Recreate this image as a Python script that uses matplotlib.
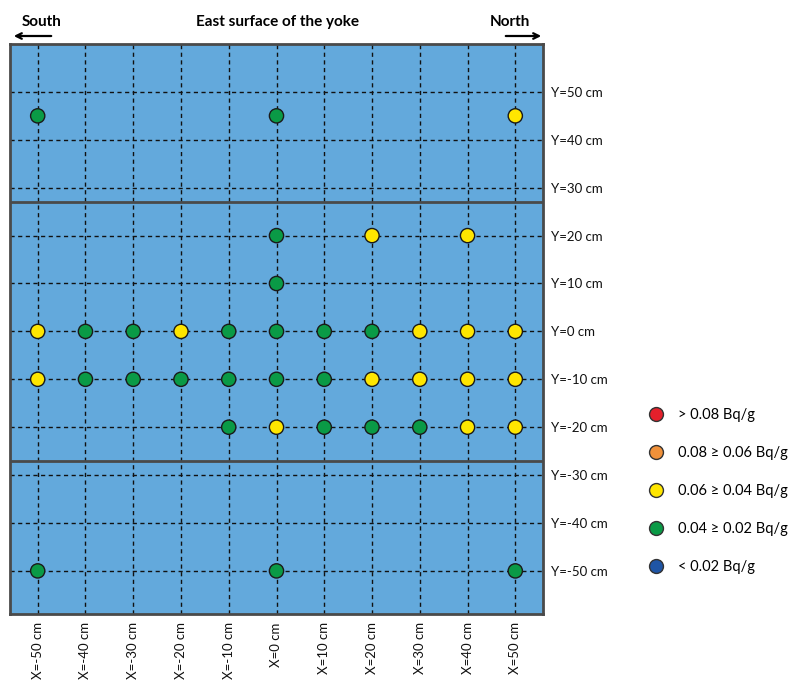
import matplotlib.pyplot as plt
from matplotlib.lines import Line2D

plt.rcParams['font.family'] = ['Lato', 'DejaVu Sans']

# Messpunkte (X, Y in cm) und Klasse der Aktivität
x_ticks = [-50, -40, -30, -20, -10, 0, 10, 20, 30, 40, 50]
y_ticks = [50, 40, 30, 20, 10, 0, -10, -20, -30, -40, -50]
section_bounds = [27, -27]

point_x = [-50, 0, 50,
           0, 20, 40,
           0,
           -50, -40, -30, -20, -10, 0, 10, 20, 30, 40, 50,
           -50, -40, -30, -20, -10, 0, 10, 20, 30, 40, 50,
           -10, 0, 10, 20, 30, 40, 50,
           -50, 0, 50]
point_y = [45, 45, 45,
           20, 20, 20,
           10,
           0, 0, 0, 0, 0, 0, 0, 0, 0, 0, 0,
           -10, -10, -10, -10, -10, -10, -10, -10, -10, -10, -10,
           -20, -20, -20, -20, -20, -20, -20,
           -50, -50, -50]
point_cls = ['G', 'G', 'Y',
             'G', 'Y', 'Y',
             'G',
             'Y', 'G', 'G', 'Y', 'G', 'G', 'G', 'G', 'Y', 'Y', 'Y',
             'Y', 'G', 'G', 'G', 'G', 'G', 'G', 'Y', 'Y', 'Y', 'Y',
             'G', 'Y', 'G', 'G', 'G', 'Y', 'Y',
             'G', 'G', 'G']

legend_labels = ['> 0.08 Bq/g', '0.08 \u2265 0.06 Bq/g', '0.06 \u2265 0.04 Bq/g',
                 '0.04 \u2265 0.02 Bq/g', '< 0.02 Bq/g']
legend_colors = ['#e5202b', '#f0913a', '#ffe600', '#0a9a46', '#1f55a5']
cls_colors = {'Y': '#ffe600', 'G': '#0a9a46'}

fig = plt.figure(figsize=(7.92, 6.81), dpi=100)
ax = fig.add_axes([10 / 792, 67 / 681, 533 / 792, 570 / 681])
ax.set_facecolor('#63a9dc')
ax.set_xlim(-55.8, 55.8)
ax.set_ylim(-59, 60)

# Gitterlinien
for x in x_ticks:
    ax.axvline(x, color='#111111', lw=1, ls=(0, (3, 2.5)), zorder=1)
for y in y_ticks:
    ax.axhline(y, color='#111111', lw=1, ls=(0, (3, 2.5)), zorder=1)
for y in section_bounds:
    ax.axhline(y, color='#4a4a4a', lw=2, zorder=2)

# Punkte
ax.scatter(point_x, point_y, s=105, c=[cls_colors[c] for c in point_cls],
           edgecolors='#1a1a1a', linewidths=1, zorder=3)

for s in ax.spines.values():
    s.set_color('#4a4a4a')
    s.set_linewidth(2)

ax.set_xticks(x_ticks)
ax.set_xticklabels(['X=%d cm' % v for v in x_ticks], rotation=90, fontsize=9.5)
ax.set_yticks(y_ticks)
ax.set_yticklabels(['Y=%d cm' % v for v in y_ticks], fontsize=9.5)
ax.yaxis.tick_right()
ax.tick_params(length=0, pad=6, colors='#111111')

# Überschrift und Richtungspfeile
fig.text(278 / 792, 1 - 22 / 681, 'East surface of the yoke', ha='center', va='center',
         fontsize=11, fontweight='bold')
fig.text(42 / 792, 1 - 22 / 681, 'South', ha='center', va='center', fontsize=11, fontweight='bold')
fig.text(510 / 792, 1 - 22 / 681, 'North', ha='center', va='center', fontsize=11, fontweight='bold')
fig.add_artist(plt.Annotation('', xy=(11 / 792, 1 - 36 / 681), xytext=(54 / 792, 1 - 36 / 681),
                              xycoords='figure fraction',
                              arrowprops=dict(arrowstyle='->', color='black', lw=1.6)))
fig.add_artist(plt.Annotation('', xy=(544 / 792, 1 - 36 / 681), xytext=(503 / 792, 1 - 36 / 681),
                              xycoords='figure fraction',
                              arrowprops=dict(arrowstyle='->', color='black', lw=1.6)))

# Legende
handles = [Line2D([], [], ls='none', marker='o', ms=10, mfc=c, mec='#333333', mew=1)
           for c in legend_colors]
fig.legend(handles, legend_labels, loc='upper left', bbox_to_anchor=(636 / 792, 1 - 395 / 681),
           frameon=False, fontsize=10.5, labelspacing=1.65, handlelength=1, handletextpad=0.95)

plt.savefig('out.png', dpi=100)
